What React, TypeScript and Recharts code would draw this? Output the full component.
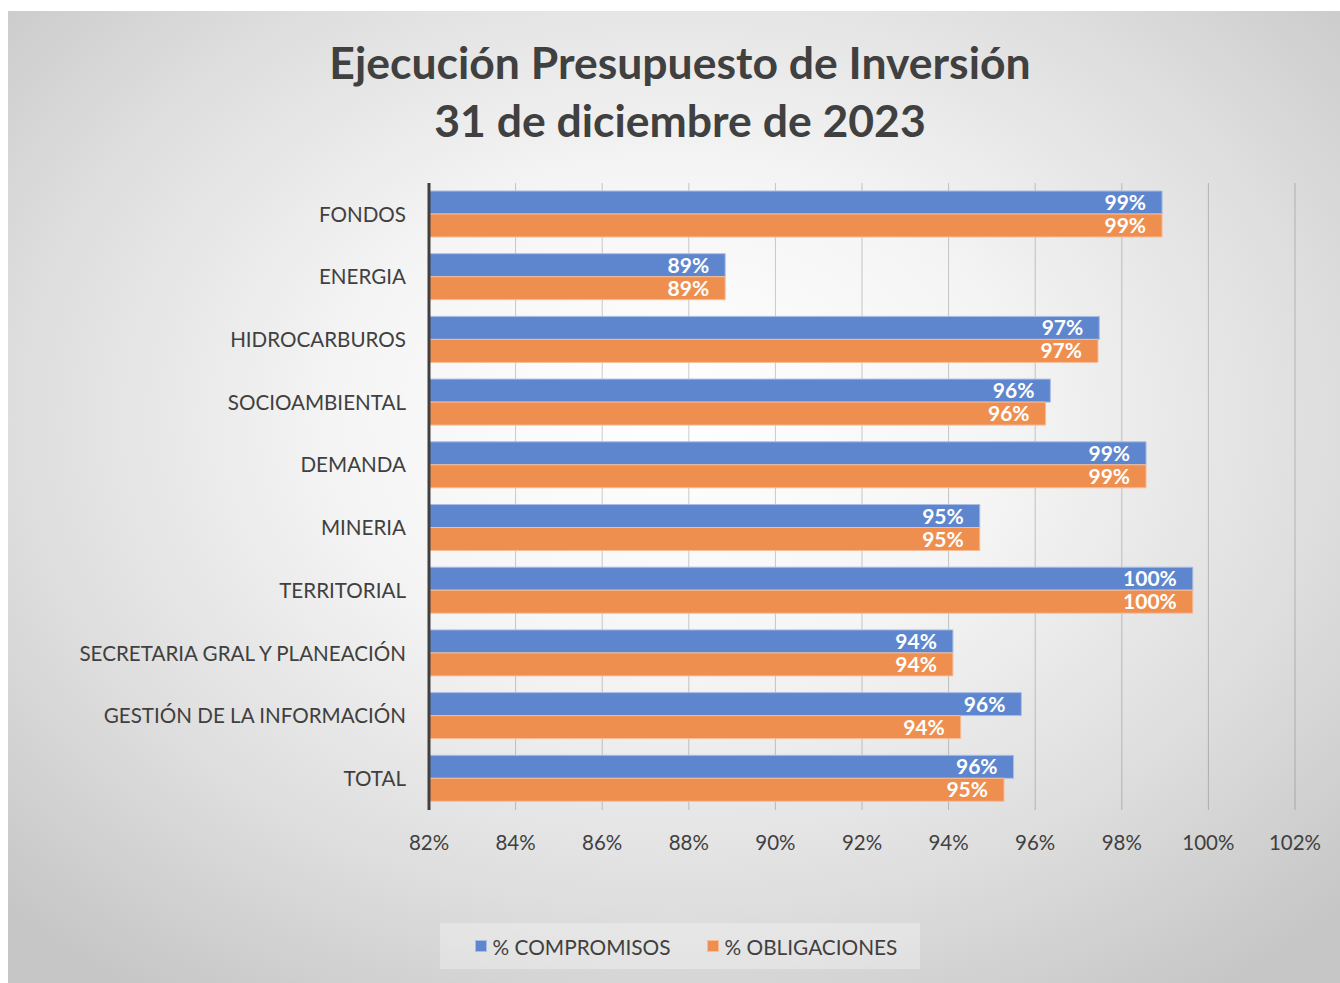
import React from "react";
import { BarChart, Bar, XAxis, YAxis, CartesianGrid, LabelList } from "recharts";

const CATEGORIES = [
  "FONDOS",
  "ENERGIA",
  "HIDROCARBUROS",
  "SOCIOAMBIENTAL",
  "DEMANDA",
  "MINERIA",
  "TERRITORIAL",
  "SECRETARIA GRAL Y PLANEACIÓN",
  "GESTIÓN DE LA INFORMACIÓN",
  "TOTAL",
];
const COMPROMISOS = [98.93, 88.84, 97.48, 96.35, 98.56, 94.72, 99.64, 94.1, 95.68, 95.5];
const OBLIGACIONES = [98.93, 88.84, 97.45, 96.24, 98.56, 94.72, 99.64, 94.1, 94.28, 95.28];
const X_TICKS = [82, 84, 86, 88, 90, 92, 94, 96, 98, 100, 102];

const FONT = "Lato, 'Open Sans', sans-serif";
const BLUE = "#5e86ce";
const ORANGE = "#ef8f4f";

const rows = CATEGORIES.map((name, i) => ({
  name,
  comp: COMPROMISOS[i],
  obl: OBLIGACIONES[i],
}));

// white value label, right-aligned inside the bar end
function InBarLabel(props: any) {
  const { x, y, width, height, value } = props;
  return (
    <text
      x={x + width - 16}
      y={y + height / 2}
      dy="0.36em"
      textAnchor="end"
      fill="#ffffff"
      fontWeight={700}
      fontSize={21}
      fontFamily={FONT}
    >
      {Math.round(value)}%
    </text>
  );
}

export default function App() {
  return (
    <div
      style={{
        position: "absolute",
        left: 8,
        top: 11,
        width: 1332,
        height: 972,
        background:
          "radial-gradient(ellipse 70% 72% at 50% 42%, #ffffff 0%, #f5f5f5 35%, #dedede 70%, #c6c6c6 100%)",
        fontFamily: FONT,
        overflow: "hidden",
      }}
    >
      <div
        style={{
          position: "absolute",
          left: 6,
          top: 0,
          width: 1332,
          textAlign: "center",
          color: "#404040",
          fontWeight: 700,
          fontSize: 44.5,
          lineHeight: "58px",
          paddingTop: 22,
        }}
      >
        <div>Ejecución Presupuesto de Inversión</div>
        <div>31 de diciembre de 2023</div>
      </div>

      <div style={{ position: "absolute", left: 0, top: 0 }}>
        <BarChart
          width={1332}
          height={972}
          data={rows}
          layout="vertical"
          margin={{ top: 172, right: 45, left: 0, bottom: 113 }}
          barSize={23}
          barGap={0}
        >
          <CartesianGrid horizontal={false} stroke="#000" strokeOpacity={0.2} />
          <XAxis
            type="number"
            domain={[82, 102]}
            ticks={X_TICKS}
            tickFormatter={(v) => `${v}%`}
            axisLine={false}
            tickLine={false}
            tickSize={0}
            tickMargin={25}
            height={60}
            interval={0}
            tick={{ fontSize: 20.5, fill: "#404040", fontFamily: FONT }}
          />
          <YAxis
            type="category"
            dataKey="name"
            width={421}
            tickLine={false}
            tickSize={0}
            tickMargin={23}
            interval={0}
            axisLine={{ stroke: "#404040", strokeWidth: 3 }}
            tick={{ fontSize: 20.6, fill: "#404040", fontFamily: FONT }}
          />
          <Bar dataKey="comp" fill={BLUE} stroke="#a9bde6" strokeWidth={1} isAnimationActive={false}>
            <LabelList dataKey="comp" content={<InBarLabel />} />
          </Bar>
          <Bar dataKey="obl" fill={ORANGE} stroke="#f7bd97" strokeWidth={1} isAnimationActive={false}>
            <LabelList dataKey="obl" content={<InBarLabel />} />
          </Bar>
        </BarChart>
      </div>

      <div
        style={{
          position: "absolute",
          left: 432,
          top: 912,
          width: 480,
          height: 46,
          boxSizing: "border-box",
          paddingLeft: 12,
          background: "rgba(255,255,255,0.3)",
          display: "flex",
          alignItems: "center",
          justifyContent: "center",
          gap: 36,
          fontSize: 20.8,
          color: "#404040",
        }}
      >
        <span style={{ display: "flex", alignItems: "center", gap: 6 }}>
          <span style={{ width: 12, height: 12, background: BLUE, border: "1px solid #a9bde6", boxSizing: "border-box" }} />
          % COMPROMISOS
        </span>
        <span style={{ display: "flex", alignItems: "center", gap: 6 }}>
          <span style={{ width: 12, height: 12, background: ORANGE, border: "1px solid #f7bd97", boxSizing: "border-box" }} />
          % OBLIGACIONES
        </span>
      </div>
    </div>
  );
}
